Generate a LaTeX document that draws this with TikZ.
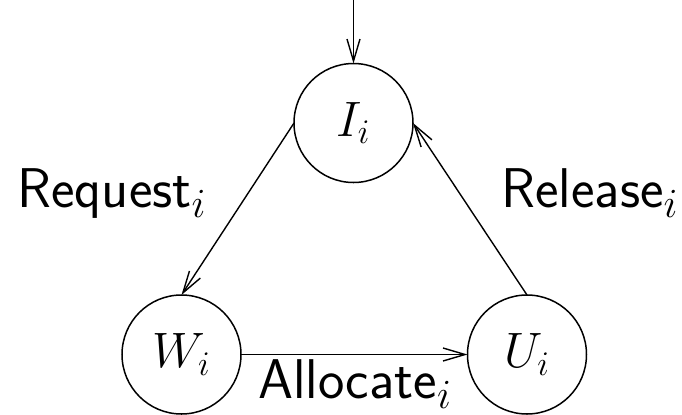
\documentclass[tikz,border=0pt]{standalone}
\usetikzlibrary{arrows.meta}
\begin{document}
\begin{tikzpicture}[x=0.5pt,y=-0.5pt,
  state/.style={circle,draw,line width=0.75pt,inner sep=0pt,outer sep=0pt,minimum size=59.5pt,font=\fontsize{25}{30}\selectfont},
  lbl/.style={font=\fontsize{28}{32}\selectfont\sffamily,anchor=base,inner sep=0pt},
  edge/.style={line width=0.7pt,-{Straight Barb[length=11pt,width=6.5pt]}}]
\useasboundingbox (0,0) rectangle (682,414);
\node[state] (I) at (353.5,123) {$I_i$};
\node[state] (W) at (181.5,354.5) {$W_i$};
\node[state] (U) at (527,354.5) {$U_i$};
\coordinate (start) at (353.5,0);
\draw[edge] (start) -- (I.north);
\draw[edge] (I.west) -- (W.north);
\draw[edge] (U.north) -- (I.east);
\draw[edge] (W.east) -- (U.west);
\node[lbl] (rq) at (112,207) {Request$_i$};
\node[lbl] (rl) at (590,207) {Release$_i$};
\node[lbl] (al) at (355,398) {Allocate$_i$};
\end{tikzpicture}
\end{document}
